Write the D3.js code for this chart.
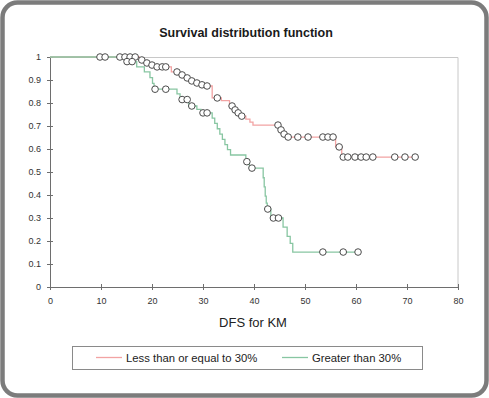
<!DOCTYPE html>
<meta charset="utf-8">
<script src="https://d3js.org/d3.v7.min.js"></script>
<style>
  body { margin: 0; background: #fff; }
  text { font-family: "Liberation Sans", Arial, sans-serif; }
</style>
<body>
<div id="chart"></div>

<script>
// series names
const seriesNames = ["Less than or equal to 30%", "Greater than 30%"];

// Less than or equal to 30% : event times / survival after event
const redEventT = [17.5, 18.5, 19.5, 20.5, 23.8, 25.3, 26.3, 27.3, 28.3, 29.3, 30.3, 31.8, 33.6,
  35.2, 36.1, 36.7, 37.3, 38.4, 39.2, 39.8, 45.0, 45.6, 46.2, 56.0, 57.2];
const redEventS = [0.987, 0.974, 0.965, 0.957, 0.935, 0.922, 0.909, 0.896, 0.887, 0.879, 0.874, 0.822, 0.81,
  0.787, 0.770, 0.757, 0.743, 0.730, 0.717, 0.704, 0.683, 0.665, 0.652, 0.609, 0.565];
// censored times
const redCensorT = [9.8, 10.8, 13.7, 14.7, 15.7, 16.7, 18.0, 19.0, 20.0, 21.0, 22.0, 22.7, 24.9, 25.9,
  26.9, 27.8, 28.8, 29.8, 30.8, 32.8, 35.7, 36.3, 36.9, 37.6, 44.7, 45.3, 45.9, 46.7, 48.6, 50.6,
  53.5, 54.5, 55.5, 56.7, 57.5, 58.4, 59.8, 61.0, 62.0, 63.3, 67.6, 69.6, 71.6];

// Greater than 30%
const greenEventT = [14.9, 17.0, 18.5, 19.6, 20.1, 20.4, 24.9, 25.5, 27.2, 28.8, 29.6, 31.8, 32.3, 32.8,
  33.3, 33.8, 34.3, 34.8, 35.4, 38.4, 39.1, 41.8, 42.0, 42.2, 42.4, 42.6, 43.3, 45.7, 46.5, 47.1, 47.6];
const greenEventS = [0.98, 0.957, 0.935, 0.91, 0.885, 0.86, 0.84, 0.815, 0.787, 0.772, 0.757, 0.734, 0.711, 0.688,
  0.665, 0.642, 0.619, 0.597, 0.574, 0.545, 0.517, 0.475, 0.435, 0.395, 0.365, 0.339, 0.30, 0.26, 0.22, 0.19, 0.152];
const greenCensorT = [15.1, 16.1, 20.6, 22.7, 25.9, 26.9, 27.8, 30.0, 30.8, 38.6, 39.6, 42.7, 43.8, 44.8,
  53.5, 57.5, 60.4];

const xTicks = [0, 10, 20, 30, 40, 50, 60, 70, 80];
const yTicks = [0, 0.1, 0.2, 0.3, 0.4, 0.5, 0.6, 0.7, 0.8, 0.9, 1];

const W = 489, H = 398;
const margin = {top: 57, right: 31, bottom: 111, left: 50},
    width = W - margin.left - margin.right,
    height = H - margin.top - margin.bottom;

const svg = d3.select("#chart").append("svg")
    .attr("width", W)
    .attr("height", H);

// card frame
svg.append("rect")
    .attr("x", 2.5).attr("y", 2.5)
    .attr("width", W - 5).attr("height", H - 5)
    .attr("rx", 15)
    .attr("fill", "#fff")
    .attr("stroke", "#7c7c7c")
    .attr("stroke-width", 4.5);

svg.append("text")
    .attr("x", 246).attr("y", 37)
    .attr("text-anchor", "middle")
    .attr("font-size", 12.5)
    .attr("font-weight", "bold")
    .attr("fill", "#1a1a1a")
    .text("Survival distribution function");

const g = svg.append("g")
    .attr("transform", `translate(${margin.left},${margin.top})`);

const x = d3.scaleLinear().domain([0, 80]).range([0, width]);
const y = d3.scaleLinear().domain([0, 1]).range([height, 0]);

// plot area border (top / right)
g.append("path")
    .attr("d", `M0,0.5H${width}V${height}`)
    .attr("fill", "none")
    .attr("stroke", "#c8c8c8")
    .attr("stroke-width", 1);

// axes
const xAxis = g.append("g")
    .attr("transform", `translate(0,${height})`)
    .call(d3.axisBottom(x).tickValues(xTicks).tickSize(3).tickPadding(8).tickSizeOuter(0));
xAxis.selectAll(".tick line").attr("y1", -3);

const yAxis = g.append("g")
    .call(d3.axisLeft(y).tickValues(yTicks).tickSize(3).tickPadding(6).tickSizeOuter(0)
      .tickFormat(d3.format("~g")));
yAxis.selectAll(".tick line").attr("x1", 3);

[xAxis, yAxis].forEach(a => {
  a.select(".domain").attr("stroke", "#6e6e6e");
  a.selectAll(".tick line").attr("stroke", "#6e6e6e");
  a.selectAll(".tick text")
    .attr("font-family", "'Liberation Sans', Arial, sans-serif")
    .attr("font-size", 9)
    .attr("fill", "#333");
});

svg.append("text")
    .attr("x", 253).attr("y", 327)
    .attr("text-anchor", "middle")
    .attr("font-size", 13)
    .attr("fill", "#222")
    .text("DFS for KM");

// step curves
function stepPoints(ts, ss, end) {
  const pts = [[0, 1]];
  ts.forEach((t, i) => pts.push([t, ss[i]]));
  pts.push([end, ss[ss.length - 1]]);
  return pts;
}
function survAt(ts, ss, t) {
  const i = d3.bisectRight(ts, t);
  return i === 0 ? 1 : ss[i - 1];
}

const line = d3.line()
    .x(d => x(d[0]))
    .y(d => y(d[1]))
    .curve(d3.curveStepAfter);

const series = [
  {name: seriesNames[0], color: "#f2a3a3", t: redEventT, s: redEventS, c: redCensorT},
  {name: seriesNames[1], color: "#88c6a2", t: greenEventT, s: greenEventS, c: greenCensorT}
];

series.forEach(sr => {
  g.append("path")
    .datum(stepPoints(sr.t, sr.s, d3.max(sr.c)))
    .attr("fill", "none")
    .attr("stroke", sr.color)
    .attr("stroke-width", 1.3)
    .attr("d", line);
});

series.forEach(sr => {
  g.selectAll(null)
    .data(sr.c)
    .join("circle")
      .attr("cx", d => x(d))
      .attr("cy", d => y(survAt(sr.t, sr.s, d)))
      .attr("r", 3.3)
      .attr("fill", "#fff")
      .attr("stroke", "#4a4a4a")
      .attr("stroke-width", 1);
});

// legend
const lg = svg.append("g");
lg.append("rect")
    .attr("x", 72.5).attr("y", 346.5)
    .attr("width", 350).attr("height", 23)
    .attr("fill", "#fff")
    .attr("stroke", "#8a8a8a");
const legX = [96, 282];
series.forEach((sr, i) => {
  lg.append("line")
    .attr("x1", legX[i]).attr("x2", legX[i] + 26)
    .attr("y1", 357.5).attr("y2", 357.5)
    .attr("stroke", sr.color)
    .attr("stroke-width", 1.3);
  lg.append("text")
    .attr("x", legX[i] + 30).attr("y", 361.5)
    .attr("font-size", 11.3)
    .attr("fill", "#222")
    .text(sr.name);
});
</script>
</body>
